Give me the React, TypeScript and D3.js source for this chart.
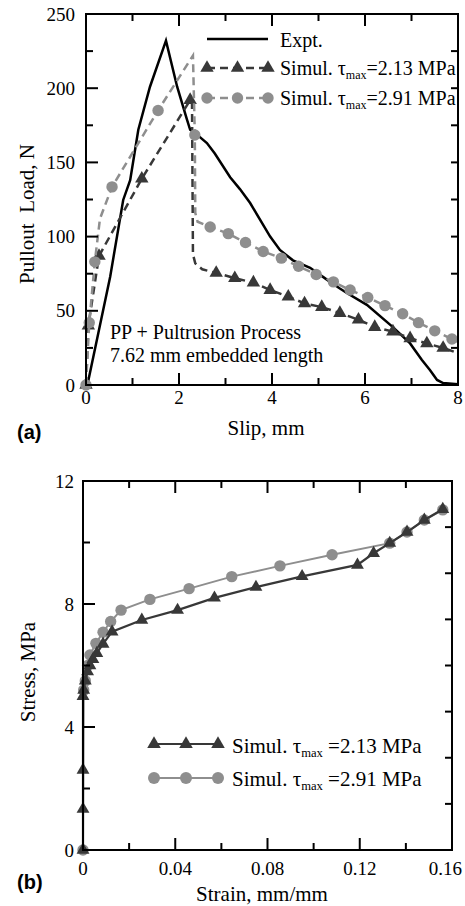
import React from "react";
import * as d3 from "d3";

// ---------- Panel (a) data ----------
const exptSlip = [0.03, 0.52, 0.8, 0.95, 1.125, 1.376, 1.72, 1.96, 2.17, 2.24, 2.34, 2.45, 2.6, 2.77, 3.1, 3.31, 3.53, 3.96, 4.17, 4.45, 4.82, 5.18, 5.46, 5.61, 6.04, 6.6, 6.97, 7.22, 7.4, 7.55, 7.68, 8.0];
const exptLoad = [0, 73, 124.7, 138, 172, 201, 232, 201, 179, 172, 170, 167, 163, 156, 140, 132, 122.6, 100, 91, 84, 79, 71, 65, 62, 54, 39, 28, 17, 10, 3.4, 1.3, 0.5];

const sim213Slip = [0, 0.05, 0.28, 1.2, 2.24, 2.28, 2.3, 2.35, 2.5, 2.8, 3.2, 3.6, 3.96, 4.35, 4.7, 5.07, 5.46, 5.86, 6.21, 6.6, 6.97, 7.33, 7.68, 8.0];
const sim213Load = [0, 40, 87, 139, 192, 190, 88, 82, 78, 75.5, 72, 69, 64, 59.5, 55, 52.5, 48.5, 44, 39, 36, 31.5, 28, 25, 21.5];
const sim213MarkSlip = [0, 0.05, 0.28, 1.2, 2.24, 2.8, 3.2, 3.6, 3.96, 4.35, 4.7, 5.07, 5.46, 5.86, 6.21, 6.6, 6.97, 7.33, 7.68];
const sim213MarkLoad = [0, 40, 87, 139, 192, 75.5, 72, 69, 64, 59.5, 55, 52.5, 48.5, 44, 39, 36, 31.5, 28, 25];

const sim291Slip = [0, 0.07, 0.19, 0.3, 0.56, 1.55, 2.3, 2.34, 2.35, 2.4, 2.67, 3.06, 3.43, 3.81, 4.2, 4.57, 4.95, 5.32, 5.68, 6.06, 6.43, 6.81, 7.15, 7.5, 7.87, 8.0];
const sim291Load = [0, 42, 83, 112, 133.5, 185, 222, 168.5, 116, 110, 106.5, 102, 96, 90, 85.5, 80, 74.5, 69.5, 64, 59, 53.5, 48, 42, 36.5, 31, 29];
const sim291MarkSlip = [0, 0.07, 0.19, 0.56, 1.55, 2.34, 2.67, 3.06, 3.43, 3.81, 4.2, 4.57, 4.95, 5.32, 5.68, 6.06, 6.43, 6.81, 7.15, 7.5, 7.87];
const sim291MarkLoad = [0, 42, 83, 133.5, 185, 168.5, 106.5, 102, 96, 90, 85.5, 80, 74.5, 69.5, 64, 59, 53.5, 48, 42, 36.5, 31];

const slipTicks = [0, 2, 4, 6, 8];
const loadTicks = [0, 50, 100, 150, 200, 250];

// ---------- Panel (b) data ----------
const b213Strain = [0, 0, 0, 0, 0.0003, 0.001, 0.002, 0.003, 0.0043, 0.006, 0.0087, 0.0126, 0.0255, 0.041, 0.057, 0.075, 0.095, 0.119, 0.126, 0.133, 0.1405, 0.148, 0.156];
const b213Stress = [0, 1.33, 2.6, 5.0, 5.2, 5.5, 5.8, 6.0, 6.2, 6.4, 6.7, 7.1, 7.48, 7.8, 8.2, 8.55, 8.9, 9.27, 9.65, 9.98, 10.34, 10.73, 11.08];

const b291Strain = [0, 0.0003, 0.001, 0.002, 0.003, 0.0056, 0.0087, 0.012, 0.0165, 0.029, 0.046, 0.0645, 0.0854, 0.108, 0.133, 0.1405, 0.148, 0.156];
const b291Stress = [0, 5.2, 5.5, 6.0, 6.34, 6.72, 7.08, 7.43, 7.8, 8.15, 8.5, 8.89, 9.24, 9.6, 9.98, 10.34, 10.73, 11.06];

const strainTicks = [0, 0.04, 0.08, 0.12, 0.16];
const stressTicks = [0, 4, 8, 12];

const DARK = "#383838";
const GRAY = "#8e8e8e";
const SERIF = "'Liberation Serif', 'Times New Roman', serif";
const SANS = "'Liberation Sans', Arial, sans-serif";

const zip = (a: number[], b: number[]) => a.map((v, i) => [v, b[i]] as [number, number]);

function Frame({ x, y, xMajor, xMinor, yMajor, yMinor, yRight, xFmt, yFmt, labelY, labelXGap, tickFont, maxX }: any) {
  const [x0, x1] = x.range();
  const [y0, y1] = y.range(); // y0 bottom
  const MAJ = 12, MIN = 7;
  const els: any[] = [];
  xMajor.forEach((t: number, i: number) => {
    const px = x(t);
    els.push(<line key={"xb" + i} x1={px} x2={px} y1={y0} y2={y0 - MAJ} stroke="#000" strokeWidth={2} />);
    els.push(<line key={"xt" + i} x1={px} x2={px} y1={y1} y2={y1 + MAJ} stroke="#000" strokeWidth={2} />);
    const label = xFmt(t);
    const halfW = label.length * tickFont * 0.25;
    const overflow = px + halfW > maxX;
    els.push(
      <text key={"xl" + i} x={overflow ? maxX : px} y={labelY} textAnchor={overflow ? "end" : "middle"} fontFamily={SERIF} fontSize={tickFont}>
        {label}
      </text>
    );
  });
  xMinor.forEach((t: number, i: number) => {
    const px = x(t);
    els.push(<line key={"xmb" + i} x1={px} x2={px} y1={y0} y2={y0 - MIN} stroke="#000" strokeWidth={2} />);
    els.push(<line key={"xmt" + i} x1={px} x2={px} y1={y1} y2={y1 + MIN} stroke="#000" strokeWidth={2} />);
  });
  yMajor.forEach((t: number, i: number) => {
    const py = y(t);
    els.push(<line key={"yl" + i} x1={x0} x2={x0 + MAJ} y1={py} y2={py} stroke="#000" strokeWidth={2} />);
    els.push(<text key={"ylb" + i} x={x0 - labelXGap} y={py} dy="0.35em" textAnchor="end" fontFamily={SERIF} fontSize={tickFont}>{yFmt(t)}</text>);
  });
  yMinor.forEach((t: number, i: number) => {
    const py = y(t);
    els.push(<line key={"ym" + i} x1={x0} x2={x0 + MIN} y1={py} y2={py} stroke="#000" strokeWidth={2} />);
  });
  yRight.forEach((t: number, i: number) => {
    const py = y(t);
    els.push(<line key={"yr" + i} x1={x1} x2={x1 - MIN} y1={py} y2={py} stroke="#000" strokeWidth={2} />);
  });
  els.push(<rect key="frame" x={x0} y={y1} width={x1 - x0} height={y0 - y1} fill="none" stroke="#000" strokeWidth={2} />);
  return <g>{els}</g>;
}

function SimLabel({ x, y, value, size, gap }: any) {
  return (
    <text x={x} y={y} fontFamily={SERIF} fontSize={size}>
      <tspan>Simul. τ</tspan>
      <tspan fontSize={size * 0.6} dy={4}>max</tspan>
      <tspan dy={-4}>{gap ? " " : ""}={value} MPa</tspan>
    </text>
  );
}

export default function App() {
  // Panel (a)
  const xa = d3.scaleLinear().domain([0, 8]).range([86, 458]);
  const ya = d3.scaleLinear().domain([0, 250]).range([385, 14]);
  const lineA = d3.line<[number, number]>().x((d) => xa(d[0])).y((d) => ya(d[1]));
  const triA = d3.symbol().type(d3.symbolTriangle).size(78)() as string;
  const triLegA = triA;

  // Panel (b)
  const xb = d3.scaleLinear().domain([0, 0.16]).range([83, 452]);
  const yb = d3.scaleLinear().domain([0, 12]).range([850, 481]);
  const lineB = d3.line<[number, number]>().x((d) => xb(d[0])).y((d) => yb(d[1]));
  const triB = d3.symbol().type(d3.symbolTriangle).size(72)() as string;
  const triLegB = d3.symbol().type(d3.symbolTriangle).size(80)() as string;

  const legA = d3.scaleLinear().domain([0, 2]).range([207, 268]);
  const legB = d3.scaleLinear().domain([0, 2]).range([154, 218]);

  return (
    <svg width={465} height={906} style={{ position: "absolute", left: 0, top: 0, background: "#fff" }}>
      {/* ===== Panel (a) ===== */}
      <path d={lineA(zip(exptSlip, exptLoad)) as string} fill="none" stroke="#000" strokeWidth={2.5} />
      <path d={lineA(zip(sim213Slip, sim213Load)) as string} fill="none" stroke={DARK} strokeWidth={2.5} strokeDasharray="8,5" />
      {sim213MarkSlip.map((s, i) => (
        <path key={"ta" + i} d={triA} transform={`translate(${xa(s)},${ya(sim213MarkLoad[i])})`} fill={DARK} />
      ))}
      <path d={lineA(zip(sim291Slip, sim291Load)) as string} fill="none" stroke={GRAY} strokeWidth={2.5} strokeDasharray="8,5" />
      {sim291MarkSlip.map((s, i) => (
        <circle key={"ca" + i} cx={xa(s)} cy={ya(sim291MarkLoad[i])} r={5.7} fill={GRAY} />
      ))}
      <Frame x={xa} y={ya} xMajor={slipTicks} xMinor={[1, 3, 5, 7]} yMajor={loadTicks} yMinor={[25, 75, 125, 175, 225]}
        yRight={[25, 50, 75, 100, 125, 150, 175, 200, 225]} xFmt={(t: number) => String(t)} yFmt={(t: number) => String(t)}
        labelY={404} labelXGap={11} tickFont={19} maxX={464} />

      {/* legend a */}
      <line x1={legA(0)} x2={legA(2)} y1={39} y2={39} stroke="#000" strokeWidth={2.5} />
      <text x={280} y={47} fontFamily={SERIF} fontSize={20}>Expt.</text>
      <line x1={legA(0)} x2={legA(2)} y1={68} y2={68} stroke={DARK} strokeWidth={2.5} strokeDasharray="8,5" />
      {[0, 1, 2].map((k) => (
        <path key={"lta" + k} d={triLegA} transform={`translate(${legA(k)},${68})`} fill={DARK} />
      ))}
      <SimLabel x={280} y={75} value="2.13" size={20} gap={false} />
      <line x1={legA(0)} x2={legA(2)} y1={98} y2={98} stroke={GRAY} strokeWidth={2.5} strokeDasharray="8,5" />
      {[0, 1, 2].map((k) => (
        <circle key={"lca" + k} cx={legA(k)} cy={98} r={5.7} fill={GRAY} />
      ))}
      <SimLabel x={280} y={105} value="2.91" size={20} gap={false} />

      <text x={110} y={339} fontFamily={SERIF} fontSize={20}>PP + Pultrusion Process</text>
      <text x={110} y={362} fontFamily={SERIF} fontSize={20}>7.62 mm embedded length</text>

      <text x={266} y={435} textAnchor="middle" fontFamily={SERIF} fontSize={21}>Slip, mm</text>
      <text transform="translate(34,214) rotate(-90)" textAnchor="middle" fontFamily={SERIF} fontSize={21} style={{ whiteSpace: "pre" }}>{"Pullout  Load, N"}</text>
      <text x={17} y={439} fontFamily={SANS} fontWeight="bold" fontSize={20}>(a)</text>

      {/* ===== Panel (b) ===== */}
      <path d={lineB(zip(b291Strain, b291Stress)) as string} fill="none" stroke={GRAY} strokeWidth={2} />
      {b291Strain.map((s, i) => (
        <circle key={"cb" + i} cx={xb(s)} cy={yb(b291Stress[i])} r={5.7} fill={GRAY} />
      ))}
      <path d={lineB(zip(b213Strain, b213Stress)) as string} fill="none" stroke={DARK} strokeWidth={2.2} />
      {b213Strain.map((s, i) => (
        <path key={"tb" + i} d={triB} transform={`translate(${xb(s)},${yb(b213Stress[i])})`} fill={DARK} />
      ))}
      <Frame x={xb} y={yb} xMajor={strainTicks} xMinor={[0.02, 0.06, 0.1, 0.14]} yMajor={stressTicks} yMinor={[2, 6, 10]}
        yRight={[1.5, 3, 4.5, 6, 7.5, 9, 10.5]} xFmt={(t: number) => (t === 0 ? "0" : String(t))} yFmt={(t: number) => String(t)}
        labelY={875} labelXGap={9} tickFont={19} maxX={462} />

      {/* legend b */}
      <line x1={legB(0)} x2={legB(2)} y1={744} y2={744} stroke={DARK} strokeWidth={2.2} />
      {[0, 1, 2].map((k) => (
        <path key={"ltb" + k} d={triLegB} transform={`translate(${legB(k)},${744})`} fill={DARK} />
      ))}
      <SimLabel x={232} y={753} value="2.13" size={21} gap={true} />
      <line x1={legB(0)} x2={legB(2)} y1={778} y2={778} stroke={GRAY} strokeWidth={2.2} />
      {[0, 1, 2].map((k) => (
        <circle key={"lcb" + k} cx={legB(k)} cy={778} r={6} fill={GRAY} />
      ))}
      <SimLabel x={232} y={786} value="2.91" size={21} gap={true} />

      <text x={262} y={901} textAnchor="middle" fontFamily={SERIF} fontSize={21}>Strain, mm/mm</text>
      <text transform="translate(35,672) rotate(-90)" textAnchor="middle" fontFamily={SERIF} fontSize={21}>Stress, MPa</text>
      <text x={17} y={889} fontFamily={SANS} fontWeight="bold" fontSize={20}>(b)</text>
    </svg>
  );
}
